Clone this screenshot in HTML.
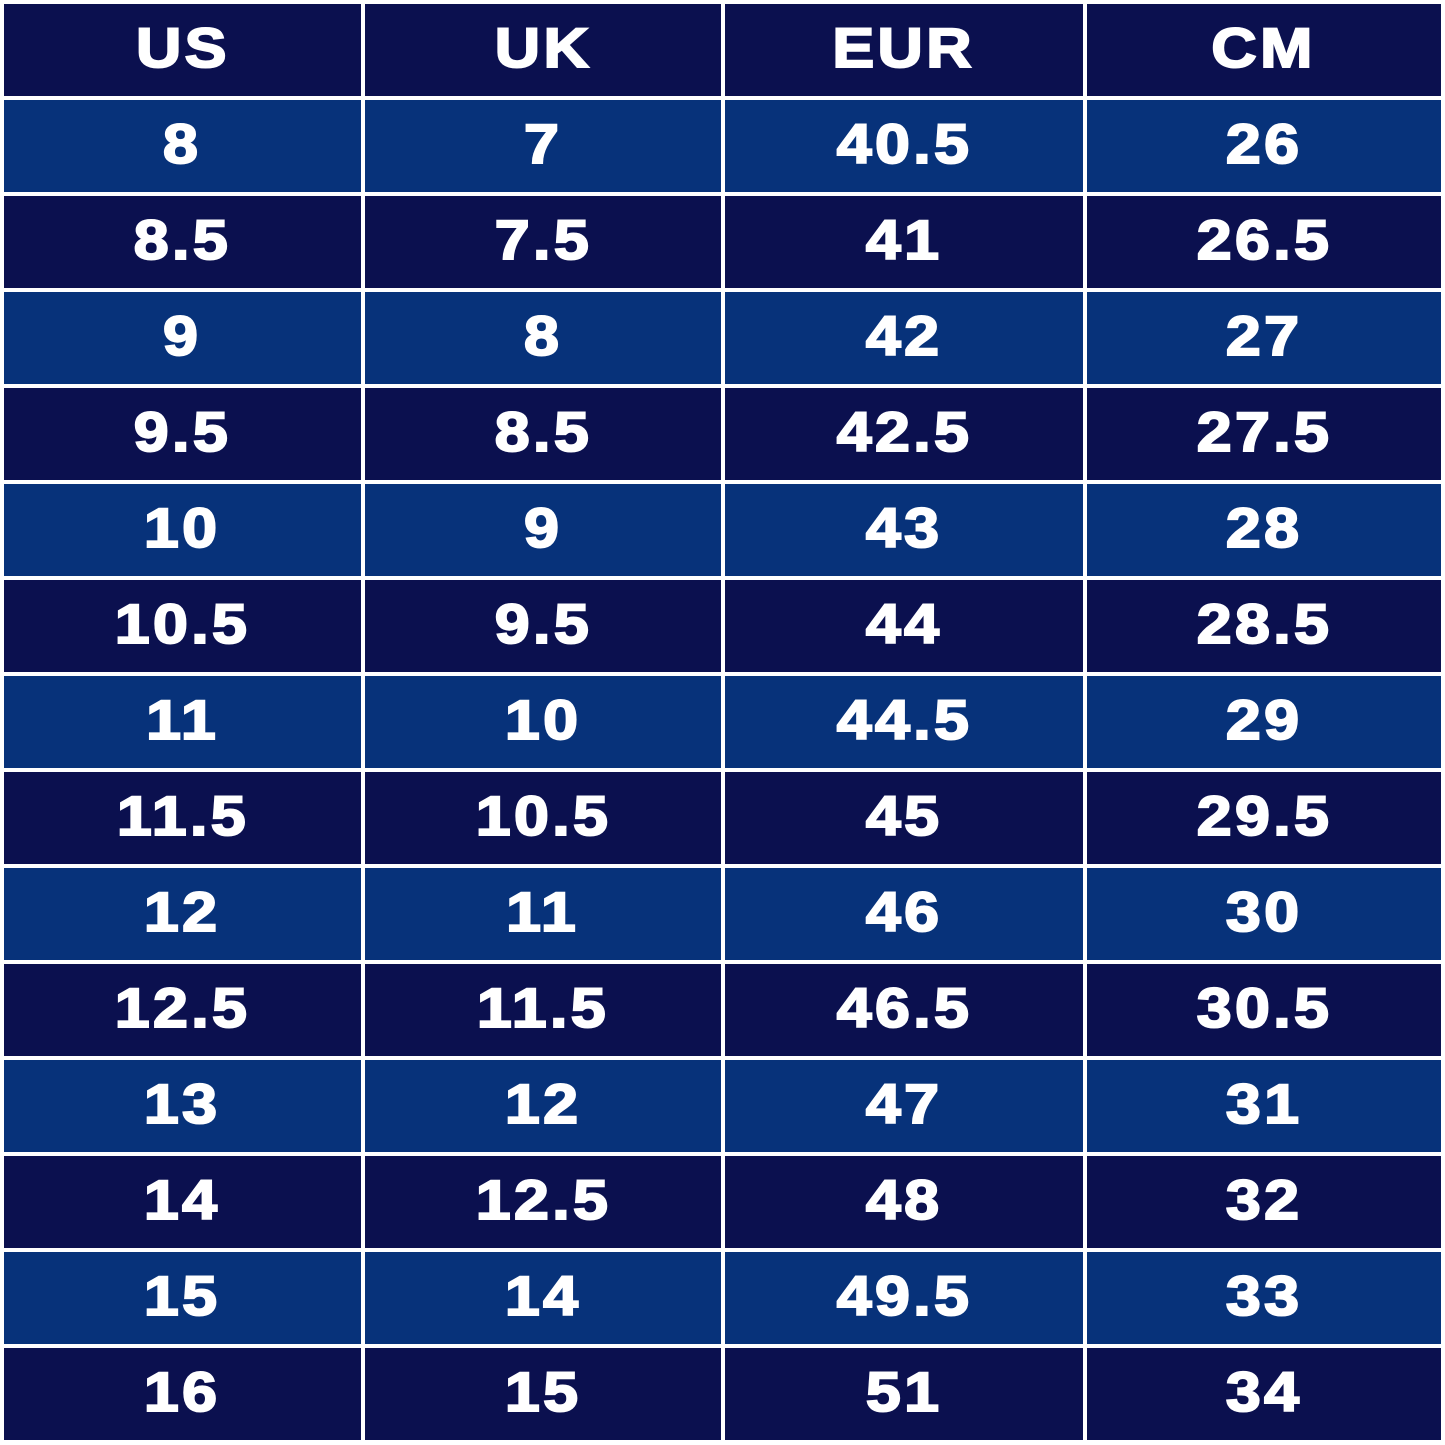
<!DOCTYPE html>
<html><head><meta charset="utf-8"><style>
html,body{margin:0;padding:0;background:#fff;width:1445px;height:1445px;overflow:hidden}
.g{position:absolute;left:4px;top:4px;width:1437px;height:1436px;display:grid;grid-template-columns:357px 356px 358px 354px;grid-template-rows:repeat(15,92px);column-gap:4px;row-gap:4px}
.g div{display:flex;align-items:center;justify-content:center;color:#fff;font-family:"Liberation Sans",sans-serif;font-weight:bold;font-size:56px;letter-spacing:3px;-webkit-text-stroke:2px #fff;background:#0b104f;padding-bottom:5px;box-sizing:border-box}
.g div span{display:inline-block;transform:scaleX(1.12)}
.g div.b{background:#07327a}
</style></head><body><div class="g">
<div><span>US</span></div><div><span>UK</span></div><div><span>EUR</span></div><div><span>CM</span></div>
<div class="b"><span>8</span></div><div class="b"><span>7</span></div><div class="b"><span>40.5</span></div><div class="b"><span>26</span></div>
<div><span>8.5</span></div><div><span>7.5</span></div><div><span>41</span></div><div><span>26.5</span></div>
<div class="b"><span>9</span></div><div class="b"><span>8</span></div><div class="b"><span>42</span></div><div class="b"><span>27</span></div>
<div><span>9.5</span></div><div><span>8.5</span></div><div><span>42.5</span></div><div><span>27.5</span></div>
<div class="b"><span>10</span></div><div class="b"><span>9</span></div><div class="b"><span>43</span></div><div class="b"><span>28</span></div>
<div><span>10.5</span></div><div><span>9.5</span></div><div><span>44</span></div><div><span>28.5</span></div>
<div class="b"><span>11</span></div><div class="b"><span>10</span></div><div class="b"><span>44.5</span></div><div class="b"><span>29</span></div>
<div><span>11.5</span></div><div><span>10.5</span></div><div><span>45</span></div><div><span>29.5</span></div>
<div class="b"><span>12</span></div><div class="b"><span>11</span></div><div class="b"><span>46</span></div><div class="b"><span>30</span></div>
<div><span>12.5</span></div><div><span>11.5</span></div><div><span>46.5</span></div><div><span>30.5</span></div>
<div class="b"><span>13</span></div><div class="b"><span>12</span></div><div class="b"><span>47</span></div><div class="b"><span>31</span></div>
<div><span>14</span></div><div><span>12.5</span></div><div><span>48</span></div><div><span>32</span></div>
<div class="b"><span>15</span></div><div class="b"><span>14</span></div><div class="b"><span>49.5</span></div><div class="b"><span>33</span></div>
<div><span>16</span></div><div><span>15</span></div><div><span>51</span></div><div><span>34</span></div>
</div></body></html>
